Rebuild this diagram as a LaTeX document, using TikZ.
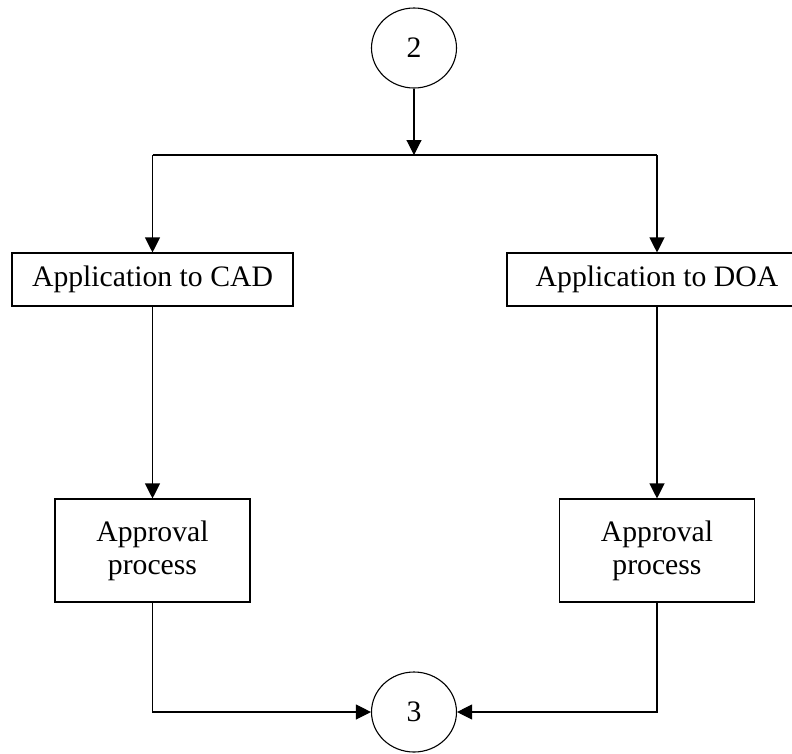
\documentclass[tikz,border=0pt]{standalone}
\usepackage{fontspec}
\setmainfont{Liberation Serif}
\usetikzlibrary{shapes.geometric,arrows.meta}
\begin{document}
\begin{tikzpicture}[x=1pt,y=-1pt,
  every node/.style={font=\fontsize{29.7}{34}\selectfont},
  conn/.style={draw=black,line width=1.1pt},
  arr/.style={conn,-{Triangle[length=15pt,width=15pt]}},
  bubble/.style={draw=black,line width=1.1pt,ellipse,minimum width=85pt,minimum height=80pt,inner sep=0pt},
  appbox/.style={draw=black,line width=1.1pt,rectangle,minimum height=53pt,inner sep=0pt},
  procbox/.style={draw=black,line width=1.1pt,rectangle,minimum width=195pt,minimum height=103pt,inner sep=0pt,align=center}]
\useasboundingbox (0,0) rectangle (792,753);
\clip (0,0) rectangle (792,753);
\fill[white] (0,0) rectangle (792,753);
\node[bubble] (c2) at (414,48) {2};
\coordinate (split) at (414,155);
\coordinate (L) at (152.5,155);
\coordinate (R) at (657,155);
\node[appbox,minimum width=281pt] (cad) at (152.5,279.5) {Application to CAD};
\node[appbox,minimum width=300pt] (doa) at (657,279.5) {Application to DOA};
\node[procbox] (app1) at (152.5,550.5) {Approval\\[-1pt]process};
\node[procbox] (app2) at (657,550.5) {Approval\\[-1pt]process};
\node[bubble] (c3) at (414,712) {3};
\draw[arr] (c2) -- (split);
\draw[conn] (L) -- (R);
\draw[arr] (L) -- (cad.north);
\draw[arr] (R) -- (doa.north);
\draw[arr] (cad) -- (app1);
\draw[arr] (doa) -- (app2);
\draw[arr] (app1.south) -- (app1.south |- c3) -- (c3.west);
\draw[arr] (app2.south) -- (app2.south |- c3) -- (c3.east);
\end{tikzpicture}
\end{document}
